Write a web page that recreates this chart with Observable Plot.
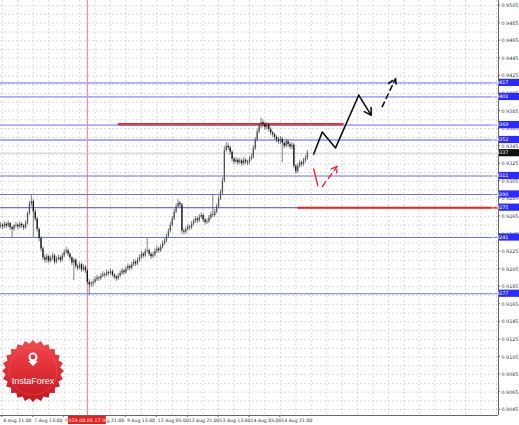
<!DOCTYPE html>
<html><head><meta charset="utf-8">
<script src="https://cdn.jsdelivr.net/npm/d3@7"></script>
<script src="https://cdn.jsdelivr.net/npm/@observablehq/plot@0.6"></script>
<style>
html,body{margin:0;padding:0;background:#fff;}
#chart{position:relative;width:519px;height:425px;overflow:hidden;}
</style></head><body><div id="chart"></div>
<script>
// hourly candles, values in pips above 0.9000 (bar index 0 = 6 Aug 20:00)
const firstOpen = 254;
const closes = [255,253,256,254,257,252,250,254,255,253,256,254,252,257,
268,279,282,270,262,250,240,228,218,215,
219,214,217,220,213,216,218,215,220,224,226,222,218,
212,215,208,206,210,204,207,203,190,187,188,
190,193,195,194,197,199,198,201,200,202,198,196,194,197,
200,203,201,205,208,206,210,213,211,215,218,222,220,225,226,222,
219,221,225,228,226,230,234,237,242,248,255,262,270,276,280,278,248,
247,250,253,252,256,259,262,260,264,266,261,258,259,263,267,266,270,
276,285,292,305,340,345,343,338,
330,327,329,326,328,325,329,327,326,330,332,342,352,361,
368,372,370,366,369,364,360,358,355,352,350,353,348,345,350,347,344,346,
322,316,322,326,324,328,331,337];
const highs = [258,257,259,258,260,258,254,256,258,257,259,258,256,260,
270,282,289,284,273,264,252,242,230,221,
222,221,220,223,222,219,221,220,223,227,230,228,224,
219,217,217,211,213,212,210,209,205,193,191,
193,196,198,197,200,202,201,204,203,205,204,200,198,200,
203,206,205,208,211,210,213,216,215,218,221,225,224,228,240,228,
224,224,228,231,230,233,237,240,245,251,258,265,273,279,284,282,280,
251,253,256,255,259,262,265,264,267,269,268,263,262,266,270,289,273,
279,288,295,309,344,349,348,345,
340,332,332,331,331,330,332,331,329,333,336,345,355,364,
371,377,375,372,372,371,366,362,360,357,355,356,355,350,353,352,349,349,
348,324,325,329,328,331,334,340];
const lows = [251,250,251,251,252,249,241,248,252,250,251,251,249,250,
255,266,276,241,259,247,236,225,215,212,
212,211,212,215,210,211,214,212,213,218,222,219,215,
209,192,205,203,204,201,202,200,187,175,184,
185,188,191,191,192,195,195,196,197,198,196,193,191,192,
195,198,198,199,203,203,204,208,208,209,213,216,217,218,223,219,
216,217,219,223,223,224,228,232,235,240,246,253,260,268,274,275,245,
244,245,248,249,250,254,257,257,258,262,258,255,256,257,261,264,264,
268,274,283,290,303,338,340,335,
327,324,325,323,324,322,323,324,323,324,328,330,340,350,
359,365,366,363,363,361,357,355,352,349,347,347,326,342,343,344,341,341,
319,313,314,320,321,322,326,329];

const yTickLabels = ["0.9505","0.9485","0.9465","0.9445","0.9425","0.9405","0.9385","0.9365","0.9345","0.9325","0.9305","0.9285","0.9265","0.9245","0.9225","0.9205","0.9185","0.9165","0.9145","0.9125","0.9105","0.9085","0.9065","0.9045"];
const xTickBars = [1,17,33,49,65,81,97,113,129,145];
const xTickLabels = ["6 Aug 21:00","7 Aug 13:00","8 Aug 05:00","8 Aug 21:00","9 Aug 13:00","12 Aug 05:00","12 Aug 21:00","13 Aug 13:00","14 Aug 05:00","14 Aug 21:00"];
const lightLevels = [0.9417,0.9401,0.9369,0.9352];
const darkLevels = [0.9311,0.9290,0.9275,0.9241,0.9177];
const currentPrice = 0.9337;
const cursorBar = 45;
const cursorLabel = "2019.08.08 17:00";
const redZoneHigh = {price:0.9370, from:61, to:178};
const redZoneLow = {price:0.9275, from:154, to:258};
// forecast sketch, in (bar, pips)
const blackPathBar = [162.3,166.7,173.6,185.6];
const blackPathPip = [336,361,343,403];
const blackArrowEnd = [192.1,380];
const dashArrowBar = [197.8,204.7];
const dashArrowPip = [390,422];
const redPathBar = [162.3,164.4];
const redPathPip = [319,300];
const redArrowBar = [166.7,174.5];
const redArrowPip = [299,322];

const P = v => 0.9 + v/10000;
const candles = closes.map((c,i)=>({j:i, o:P(i===0?firstOpen:closes[i-1]), c:P(c), h:P(highs[i]), l:P(lows[i])}));

const yMin = 0.90384, yMax = 0.95108, xMax = 258.03;
const gridY = d3.range(45, 506, 10).map(P);
const gridX = d3.range(1, 258, 8);
const yTicks = yTickLabels.map(Number);

const plot = Plot.plot({
  width:519, height:425,
  marginLeft:0, marginRight:21, marginTop:0, marginBottom:10,
  x:{domain:[0,xMax], axis:null},
  y:{domain:[yMin,yMax], axis:null},
  style:{background:"#fff", fontFamily:"DejaVu Sans, sans-serif"},
  marks:[
    Plot.ruleY(gridY, {stroke:"#c4c4c4", strokeWidth:0.6, strokeDasharray:"2,2"}),
    Plot.ruleX(gridX, {stroke:"#c4c4c4", strokeWidth:0.6, strokeDasharray:"2,2"}),
    Plot.ruleX([cursorBar], {stroke:"#f07070", strokeWidth:1.1, strokeOpacity:0.85}),
    Plot.ruleY([currentPrice], {stroke:"#c8c8c8", strokeWidth:1}),
    Plot.ruleY(lightLevels, {stroke:"#a9a9ff", strokeWidth:1.8}),
    Plot.ruleY(darkLevels, {stroke:"#6c6cff", strokeWidth:1.1}),
    Plot.ruleY([redZoneHigh], {y:"price", x1:"from", x2:"to", stroke:"#e2333b", strokeWidth:2.6}),
    Plot.ruleY([redZoneLow], {y:"price", x1:"from", x2:"to", stroke:"#ee2020", strokeWidth:2}),
    Plot.ruleX(candles, {x:"j", y1:"l", y2:"h", stroke:"#4a4a4a", strokeWidth:0.7}),
    Plot.ruleX(candles, {x:"j", y1:"o", y2:"c", stroke:d=>d.c>=d.o?"#555":"#111", strokeWidth:1.3}),
    Plot.line(blackPathBar.map((b,i)=>[b,P(blackPathPip[i])]), {x:d=>d[0], y:d=>d[1], stroke:"#111", strokeWidth:1.6}),
    Plot.arrow([0], {x1:blackPathBar[3], y1:P(blackPathPip[3]), x2:blackArrowEnd[0], y2:P(blackArrowEnd[1]), stroke:"#111", strokeWidth:1.6, headLength:8}),
    Plot.arrow([0], {x1:dashArrowBar[0], y1:P(dashArrowPip[0]), x2:dashArrowBar[1], y2:P(dashArrowPip[1]), stroke:"#111", strokeWidth:1.6, strokeDasharray:"5,4", headLength:8}),
    Plot.line(redPathBar.map((b,i)=>[b,P(redPathPip[i])]), {x:d=>d[0], y:d=>d[1], stroke:"#ee2a2a", strokeWidth:1.4}),
    Plot.arrow([0], {x1:redArrowBar[0], y1:P(redArrowPip[0]), x2:redArrowBar[1], y2:P(redArrowPip[1]), stroke:"#ee2a2a", strokeWidth:1.4, strokeDasharray:"6,4", headLength:7}),
    Plot.ruleX([xMax], {stroke:"#666", strokeWidth:1}),
    Plot.ruleY([yMin], {stroke:"#666", strokeWidth:1}),
    Plot.text(yTicks, {x:xMax, y:d=>d, text:(d,i)=>yTickLabels[i], textAnchor:"start", dx:3, fontSize:4.8, fill:"#333"}),
    Plot.text(xTickBars, {x:d=>d, y:yMin, text:(d,i)=>xTickLabels[i], textAnchor:"start", dy:5, dx:1, fontSize:4.6, fill:"#333"})
  ]
});

const sx = plot.scale("x"), sy = plot.scale("y");
const svg = d3.select(plot);
const ov = svg.append("g").attr("font-family","DejaVu Sans, sans-serif").attr("font-size",4.8);
// axis ticks
ov.selectAll(".yt").data(yTicks).join("line").attr("x1",sx.apply(xMax)).attr("x2",sx.apply(xMax)+2)
  .attr("y1",d=>sy.apply(d)).attr("y2",d=>sy.apply(d)).attr("stroke","#666");
ov.selectAll(".xt").data(xTickBars).join("line").attr("x1",d=>sx.apply(d)).attr("x2",d=>sx.apply(d))
  .attr("y1",sy.apply(yMin)).attr("y2",sy.apply(yMin)+2).attr("stroke","#666");
// level value boxes
const boxes = [...lightLevels,...darkLevels].map(v=>({v, fill:"#2b2bff"})).concat([{v:currentPrice, fill:"#111"}]);
const bx = ov.selectAll(".bx").data(boxes).join("g");
bx.append("rect").attr("x",sx.apply(xMax)+1).attr("width",20).attr("y",d=>sy.apply(d.v)-3.6).attr("height",7.2).attr("fill",d=>d.fill);
bx.append("text").attr("x",sx.apply(xMax)+2).attr("y",d=>sy.apply(d.v)).attr("dy","0.35em").attr("fill","#fff").attr("font-size",4.8).text(d=>d.v.toFixed(4));
// cursor time label
const cx = sx.apply(cursorBar), by = sy.apply(yMin);
ov.append("rect").attr("x",cx-19).attr("y",by+1).attr("width",38).attr("height",8).attr("fill","#f21b1b");
ov.append("text").attr("x",cx).attr("y",by+5).attr("dy","0.35em").attr("text-anchor","middle").attr("fill","#fff").text(cursorLabel);

// InstaForex badge
const lg = svg.append("g").attr("transform","translate(33,371)");
const defs = svg.append("defs");
const gr = defs.append("linearGradient").attr("id","lgr").attr("x1",0).attr("y1",0).attr("x2",0).attr("y2",1);
gr.append("stop").attr("offset","0%").attr("stop-color","#f4484d");
gr.append("stop").attr("offset","100%").attr("stop-color","#c4161f");
const n = 24, pts = [];
for (let k=0;k<2*n;k++){ const a = Math.PI*k/n - Math.PI/2; const r = k%2===0?31:27.5; pts.push([r*Math.cos(a), r*Math.sin(a)]); }
lg.append("path").attr("d", d3.line().curve(d3.curveLinearClosed)(pts)).attr("fill","url(#lgr)");
lg.append("circle").attr("r",24).attr("fill","none").attr("stroke","#ff7070").attr("stroke-opacity",0.35);
lg.append("circle").attr("cy",-14).attr("r",4.5).attr("fill","#fff");
lg.append("circle").attr("cy",-14).attr("r",2.4).attr("fill","#e0343a");
lg.append("path").attr("d","M-5,-10 L5,-10 L0,-5 Z").attr("fill","#fff");
lg.append("text").attr("y",13).attr("text-anchor","middle").attr("fill","#fff").attr("font-family","Arial, Liberation Sans, sans-serif").attr("font-size",9).text("InstaForex");

document.getElementById("chart").appendChild(plot);
</script></body></html>
